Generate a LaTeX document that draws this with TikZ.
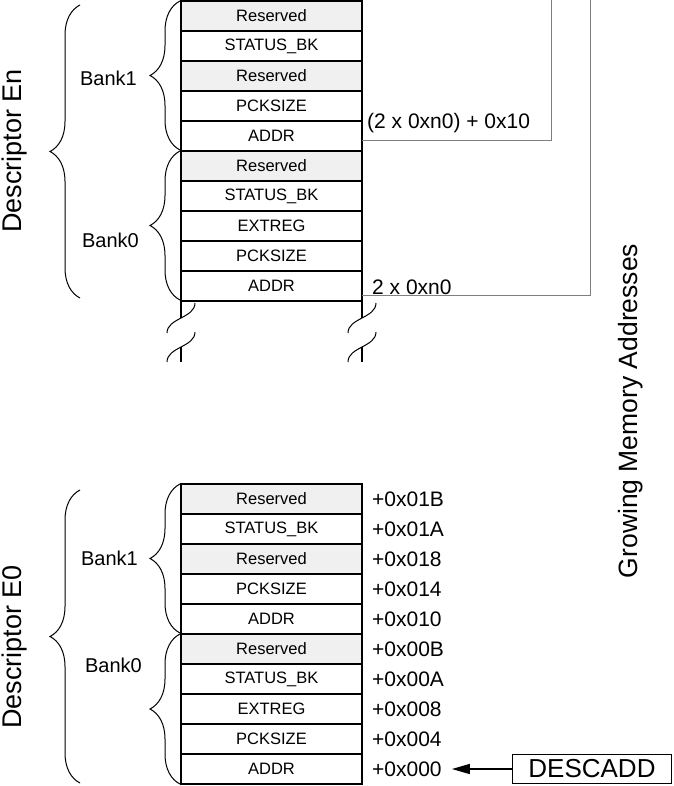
\documentclass[tikz,border=0pt]{standalone}
\usepackage{fontspec}
\setmainfont{Liberation Sans}
\usetikzlibrary{positioning,arrows.meta,decorations.pathreplacing}
\definecolor{resgray}{HTML}{F0F0F0}
\definecolor{linkgray}{HTML}{7F7F7F}

\begin{document}
\begin{tikzpicture}[
    x=1pt, y=-1pt,
    cell/.style={draw, line width=1.2pt, minimum width=181pt, minimum height=30pt, inner sep=0pt, outer sep=0pt, font=\fontsize{16.5}{18}\selectfont},
    res/.style={cell, fill=resgray},
    addr/.style={inner sep=0pt, anchor=west, font=\fontsize{21}{24}\selectfont},
    bank/.style={anchor=east, inner sep=0pt, font=\fontsize{20}{24}\selectfont},
    title/.style={rotate=90, inner sep=0pt, font=\fontsize{27}{30}\selectfont},
    brc/.style={decorate, decoration={brace, amplitude=30pt}, line width=1pt},
    link/.style={linkgray, line width=1pt},
    arr/.style={-{Triangle[length=18pt, width=10pt]}, line width=1.5pt}
  ]
  \useasboundingbox (0,0) rectangle (673,786);

  % descriptor En
  \node[res] (nres1) at (271.5,16) {Reserved};
  \node[cell, below=0pt of nres1] (nstat1) {STATUS\_BK};
  \node[res, below=0pt of nstat1] (nresb1) {Reserved};
  \node[cell, below=0pt of nresb1] (npck1) {PCKSIZE};
  \node[cell, below=0pt of npck1] (nadr1) {ADDR};
  \node[res, below=0pt of nadr1] (nres0) {Reserved};
  \node[cell, below=0pt of nres0] (nstat0) {STATUS\_BK};
  \node[cell, below=0pt of nstat0] (next0) {EXTREG};
  \node[cell, below=0pt of next0] (npck0) {PCKSIZE};
  \node[cell, below=0pt of npck0] (nadr0) {ADDR};

  \draw[brc] (180,150) -- (180,1);
  \draw[brc] (180,300) -- (180,151);
  \draw[brc] (80,298) -- (80,5);
  \node[bank] (nbank1) at (137,78) {Bank1};
  \node[bank] (nbank0) at (139,240) {Bank0};
  \node[title] (nname) at (15,151) {Descriptor En};

  % broken stack edges
  \foreach \bx in {181,362} {
    \draw[line width=1.2pt] (\bx,301) -- (\bx,318);
    \draw[line width=1.2pt] (\bx,347) -- (\bx,362);
    \draw[line width=1pt] (\bx-14,333) .. controls (\bx-14,318) and (\bx+14,318) .. (\bx+14,303);
    \draw[line width=1pt] (\bx-14,362) .. controls (\bx-14,347) and (\bx+14,347) .. (\bx+14,332);
  }

  % address of descriptor En
  \coordinate (up1) at (551,0);
  \coordinate (up0) at (590,0);
  \draw[link] ([yshift=-5pt]nadr1.east) -| (up1);
  \draw[link] ([yshift=-9pt]nadr0.east) -| (up0);
  \node[addr] (noff1) at (367,123) {(2 x 0xn0) + 0x10};
  \node[addr] (noff0) at (372,287) {2 x 0xn0};

  % descriptor E0
  \node[res] (eres1) at (271.5,499) {Reserved};
  \node[cell, below=0pt of eres1] (estat1) {STATUS\_BK};
  \node[res, below=0pt of estat1] (eresb1) {Reserved};
  \node[cell, below=0pt of eresb1] (epck1) {PCKSIZE};
  \node[cell, below=0pt of epck1] (eadr1) {ADDR};
  \node[res, below=0pt of eadr1] (eres0) {Reserved};
  \node[cell, below=0pt of eres0] (estat0) {STATUS\_BK};
  \node[cell, below=0pt of estat0] (eext0) {EXTREG};
  \node[cell, below=0pt of eext0] (epck0) {PCKSIZE};
  \node[cell, below=0pt of epck0] (eadr0) {ADDR};

  \node[addr, right=10pt of eres1] (a01b) {+0x01B};
  \node[addr, right=10pt of estat1] (a01a) {+0x01A};
  \node[addr, right=10pt of eresb1] (a018) {+0x018};
  \node[addr, right=10pt of epck1] (a014) {+0x014};
  \node[addr, right=10pt of eadr1] (a010) {+0x010};
  \node[addr, right=10pt of eres0] (a00b) {+0x00B};
  \node[addr, right=10pt of estat0] (a00a) {+0x00A};
  \node[addr, right=10pt of eext0] (a008) {+0x008};
  \node[addr, right=10pt of epck0] (a004) {+0x004};
  \node[addr, right=10pt of eadr0] (a000) {+0x000};

  \draw[brc] (180,633) -- (180,484);
  \draw[brc] (180,784) -- (180,634);
  \draw[brc] (80,783) -- (80,490);
  \node[bank] (ebank1) at (138,558) {Bank1};
  \node[bank] (ebank0) at (142,665) {Bank0};
  \node[title] (ename) at (15,647) {Descriptor E0};

  \node[draw, line width=1.2pt, minimum width=159pt, minimum height=29pt, inner sep=0pt,
        font=\fontsize{26}{30}\selectfont, right=70pt of a000] (desc) {DESCADD};
  \draw[arr, shorten >=10pt] (desc) -- (a000);

  \node[title, font=\fontsize{26.5}{30}\selectfont] (grow) at (631,411) {Growing Memory Addresses};
\end{tikzpicture}
\end{document}
